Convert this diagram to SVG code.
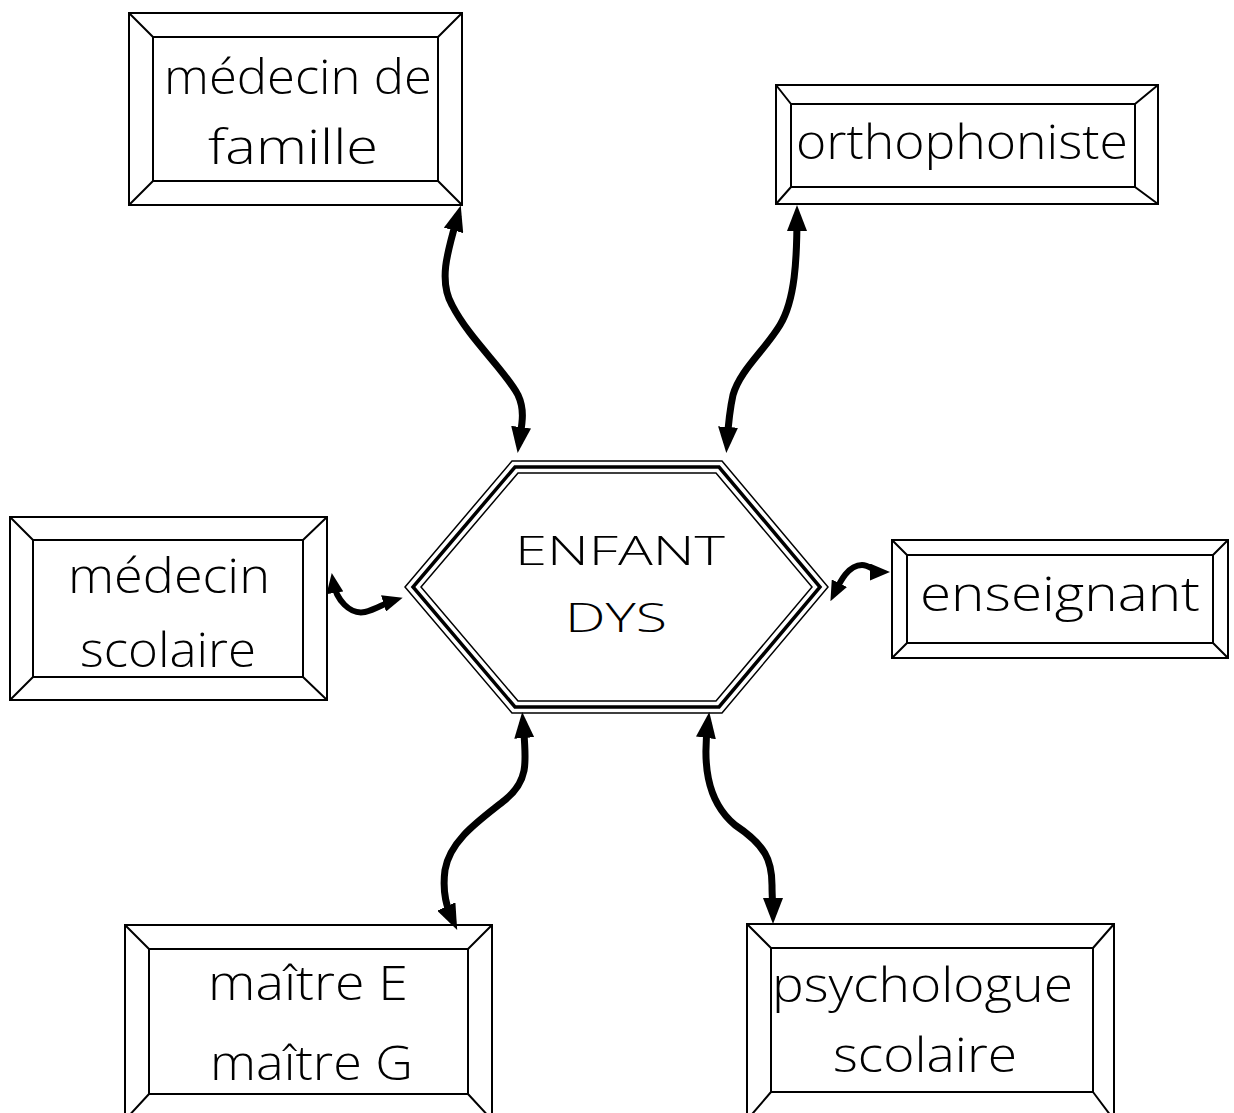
<svg xmlns="http://www.w3.org/2000/svg" width="1234" height="1113" viewBox="0 0 1234 1113">
<style>
.frame{fill:none;stroke:#000;stroke-width:2}
.lbl{font-family:"Open Sans","Noto Sans",sans-serif;font-weight:300;font-size:47px;fill:#000;text-anchor:start}
.hex{font-family:"Open Sans","Noto Sans",sans-serif;font-weight:300;font-size:40px;fill:#000;text-anchor:start}
.conn{fill:none;stroke:#000;stroke-width:7;stroke-linecap:butt}
.conn2{fill:none;stroke:#000;stroke-width:6;stroke-linecap:butt}
</style>
<defs>
<marker id="ah" markerUnits="userSpaceOnUse" markerWidth="26" markerHeight="20" viewBox="0 0 26 20" refX="16" refY="10" orient="auto-start-reverse">
<path d="M0,0 L26,10 L0,20 Z" fill="#000"/>
</marker>
<marker id="ahs" markerUnits="userSpaceOnUse" markerWidth="20" markerHeight="17" viewBox="0 0 20 17" refX="12" refY="8.5" orient="auto-start-reverse">
<path d="M0,0 L20,8.5 L0,17 Z" fill="#000"/>
</marker>
</defs>
<rect width="1234" height="1113" fill="#fff"/>

<g id="medecin-famille">
<rect class="frame" x="129" y="13" width="333" height="192"/>
<rect class="frame" x="153" y="37" width="285" height="144"/>
<path class="frame" d="M129,13 L153,37 M462,13 L438,37 M129,205 L153,181 M462,205 L438,181"/>
<text class="lbl" x="164" y="94" textLength="268" lengthAdjust="spacingAndGlyphs">médecin de</text>
<text class="lbl" x="208" y="164" textLength="170" lengthAdjust="spacingAndGlyphs">famille</text>
</g>

<g id="orthophoniste">
<rect class="frame" x="776" y="85" width="382" height="119"/>
<rect class="frame" x="791" y="104" width="344" height="83"/>
<path class="frame" d="M776,85 L791,104 M1158,85 L1135,104 M776,204 L791,187 M1158,204 L1135,187"/>
<text class="lbl" x="796" y="159" textLength="332" lengthAdjust="spacingAndGlyphs">orthophoniste</text>
</g>

<g id="medecin-scolaire">
<rect class="frame" x="10" y="517" width="317" height="183"/>
<rect class="frame" x="33" y="540" width="270" height="137"/>
<path class="frame" d="M10,517 L33,540 M327,517 L303,540 M10,700 L33,677 M327,700 L303,677"/>
<text class="lbl" x="68" y="593" textLength="202" lengthAdjust="spacingAndGlyphs">médecin</text>
<text class="lbl" x="80" y="667" textLength="176" lengthAdjust="spacingAndGlyphs">scolaire</text>
</g>

<g id="enseignant">
<rect class="frame" x="892" y="540" width="336" height="118"/>
<rect class="frame" x="907" y="555" width="306" height="88"/>
<path class="frame" d="M892,540 L907,555 M1228,540 L1213,555 M892,658 L907,643 M1228,658 L1213,643"/>
<text class="lbl" x="920" y="611" textLength="280" lengthAdjust="spacingAndGlyphs">enseignant</text>
</g>

<g id="maitre">
<rect class="frame" x="125" y="925" width="367" height="195"/>
<rect class="frame" x="149" y="949" width="319" height="145"/>
<path class="frame" d="M125,925 L149,949 M492,925 L468,949 M125,1120 L149,1094 M492,1120 L468,1094"/>
<text class="lbl" x="208" y="1000" textLength="200" lengthAdjust="spacingAndGlyphs">maître E</text>
<text class="lbl" x="210" y="1080" textLength="203" lengthAdjust="spacingAndGlyphs">maître G</text>
</g>

<g id="psychologue">
<rect class="frame" x="747" y="924" width="367" height="196"/>
<rect class="frame" x="771" y="948" width="322" height="144"/>
<path class="frame" d="M747,924 L771,948 M1114,924 L1093,948 M747,1120 L771,1092 M1114,1120 L1093,1092"/>
<text class="lbl" x="772" y="1002" textLength="301" lengthAdjust="spacingAndGlyphs">psychologue</text>
<text class="lbl" x="833" y="1072" textLength="184" lengthAdjust="spacingAndGlyphs">scolaire</text>
</g>

<g id="enfant-dys">
<polygon points="512,461 722,461 828,587 722,713 512,713 405,587" fill="none" stroke="#000" stroke-width="1.5"/>
<polygon points="515,467 719,467 820,587 719,707 515,707 413,587" fill="none" stroke="#000" stroke-width="3.5"/>
<polygon points="518,473 716,473 812,587 716,701 518,701 421,587" fill="none" stroke="#000" stroke-width="1.5"/>
<text class="hex" x="515" y="565" textLength="210" lengthAdjust="spacingAndGlyphs">ENFANT</text>
<text class="hex" x="565" y="632" textLength="102" lengthAdjust="spacingAndGlyphs">DYS</text>
</g>

<g id="connectors">
<path class="conn" marker-start="url(#ah)" marker-end="url(#ah)" d="M458,215 C448,250 438,280 452,305 C470,340 505,370 518,395 C526,412 521,428 519,443"/>
<path class="conn" marker-start="url(#ah)" marker-end="url(#ah)" d="M797,215 C797,260 795,300 780,325 C765,350 740,370 733,395 C729,413 728,428 727,443"/>
<path class="conn2" marker-start="url(#ahs)" marker-end="url(#ahs)" d="M333,581 C336,600 350,615 365,612 C375,610 385,603 395,600"/>
<path class="conn2" marker-start="url(#ahs)" marker-end="url(#ahs)" d="M834,594 C840,582 848,565 862,565 C870,565 874,572 882,572"/>
<path class="conn" marker-start="url(#ah)" marker-end="url(#ah)" d="M523,722 C526,760 530,780 505,800 C480,820 450,840 445,870 C442,893 447,908 453,921"/>
<path class="conn" marker-start="url(#ah)" marker-end="url(#ah)" d="M708,722 C703,760 705,800 735,825 C765,845 772,860 772,885 C772,898 773,906 773,914"/>
</g>
</svg>
